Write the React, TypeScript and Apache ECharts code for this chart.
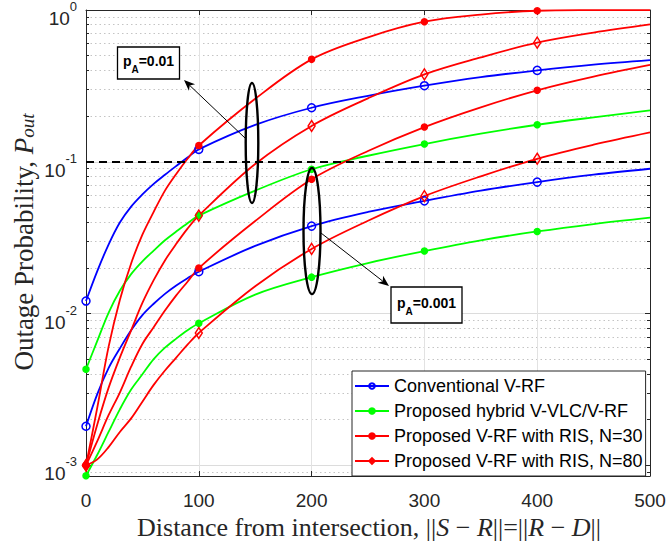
import React, { useEffect, useRef } from "react";
import * as echarts from "echarts";

// ---------------- data ----------------
const distance = [0, 10, 20, 30, 40, 50, 60, 70, 80, 90, 100, 150, 200, 250, 300, 350, 400, 450, 500];
const markerDistances = [0, 100, 200, 300, 400];

// Conventional V-RF
const conventionalPA001 = [0.0121, 0.01905, 0.0285, 0.0398, 0.0507, 0.061, 0.0716, 0.0822, 0.0938, 0.1067, 0.1208, 0.175, 0.227, 0.272, 0.317, 0.361, 0.4, 0.437, 0.468];
const conventionalPA0001 = [0.00181, 0.00295, 0.00437, 0.00589, 0.00776, 0.00977, 0.01161, 0.01349, 0.01531, 0.0171, 0.01888, 0.0279, 0.0377, 0.0467, 0.0553, 0.0646, 0.0735, 0.0822, 0.09];
// Proposed hybrid V-VLC/V-RF
const hybridPA001 = [0.0043, 0.00661, 0.01012, 0.01413, 0.0182, 0.0221, 0.026, 0.0304, 0.0347, 0.0394, 0.0442, 0.0646, 0.0893, 0.1096, 0.1309, 0.1531, 0.1754, 0.1963, 0.2178];
const hybridPA0001 = [0.000855, 0.001175, 0.00166, 0.00234, 0.00316, 0.00398, 0.00501, 0.00596, 0.00684, 0.00776, 0.00863, 0.01334, 0.01738, 0.02153, 0.02582, 0.03041, 0.03475, 0.0389, 0.04285];
// Proposed V-RF with RIS, N=30
const risN30PA001 = [0.001, 0.0024, 0.00603, 0.0123, 0.0214, 0.0331, 0.0468, 0.0646, 0.0832, 0.1047, 0.128, 0.26, 0.473, 0.661, 0.8375, 0.933, 0.9886, 0.9977, 0.9995];
const risN30PA0001 = [0.001, 0.001445, 0.00214, 0.00302, 0.00447, 0.00631, 0.00813, 0.01047, 0.01318, 0.01622, 0.01995, 0.0407, 0.0767, 0.1178, 0.1694, 0.2286, 0.2958, 0.3639, 0.4345];
// Proposed V-RF with RIS, N=80
const risN80PA001 = [0.001, 0.00186, 0.00324, 0.00513, 0.00776, 0.01175, 0.0166, 0.0224, 0.0288, 0.0363, 0.0442, 0.0966, 0.1722, 0.2618, 0.3767, 0.4875, 0.6095, 0.7096, 0.8035];
const risN80PA0001 = [0.001, 0.001096, 0.001318, 0.00166, 0.00204, 0.00263, 0.00339, 0.00422, 0.00513, 0.00624, 0.00745, 0.01514, 0.02667, 0.0409, 0.0594, 0.0802, 0.1047, 0.1297, 0.1563];

const legendNames = [
  "Conventional V-RF",
  "Proposed hybrid V-VLC/V-RF",
  "Proposed V-RF with RIS, N=30",
  "Proposed V-RF with RIS, N=80",
];

const xMin = 0;
const xMax = 500;
const xStep = 100;
const yExponents = [-3, -2, -1, 0];
const yMinLog = -3.07;
const yMaxLog = 0;
const outageThreshold = 0.1;
const annotationLabels = ["0.01", "0.001"];

// ---------------- styles ----------------
const AXIS = "#262626";
const SANS = "Liberation Sans, Arial, sans-serif";
const SERIF = "Liberation Serif, Times New Roman, serif";

const styleConv = { color: "#0000ff", symbol: "circle", size: 8, fill: "rgba(255,255,255,0)" };
const styleHyb = { color: "#00ff00", symbol: "circle", size: 6, fill: "#00ff00" };
const styleN30 = { color: "#ff0000", symbol: "circle", size: 6, fill: "#ff0000" };
const styleN80 = { color: "#ff0000", symbol: "diamond", size: [7, 11], fill: "rgba(255,255,255,0)" };

function buildData(values: number[]) {
  return distance.map((d, i) => {
    const v = [d, Math.log10(values[i])];
    return markerDistances.includes(d) ? { value: v } : { value: v, symbol: "none" };
  });
}

function makeSeries(name: string, values: number[], st: any, extra: any = {}) {
  return {
    type: "line",
    name,
    data: buildData(values),
    smooth: 0.35,
    showSymbol: true,
    symbol: st.symbol,
    symbolSize: st.size,
    lineStyle: { color: st.color, width: 1.8 },
    itemStyle: { color: st.fill, borderColor: st.color, borderWidth: 1.5 },
    emphasis: { disabled: true },
    clip: true,
    xAxisIndex: 0,
    yAxisIndex: 0,
    ...extra,
  };
}

function arrowHead(tail: number[], tip: number[], len = 11, half = 4.5, back = 0.72) {
  const dx = tip[0] - tail[0];
  const dy = tip[1] - tail[1];
  const L = Math.hypot(dx, dy);
  const ux = dx / L, uy = dy / L, nx = -uy, ny = ux;
  return {
    head: [
      [tip[0], tip[1]],
      [tip[0] - ux * len + nx * half, tip[1] - uy * len + ny * half],
      [tip[0] - ux * len * back, tip[1] - uy * len * back],
      [tip[0] - ux * len - nx * half, tip[1] - uy * len - ny * half],
    ],
    notch: [tip[0] - ux * len * back, tip[1] - uy * len * back],
  };
}

function annotationBox(x: number, y: number, w: number, h: number, label: string) {
  return [
    {
      type: "rect",
      z: 120,
      shape: { x, y, width: w, height: h },
      style: { fill: "#fff", stroke: "#000", lineWidth: 1.3 },
    },
    {
      type: "text",
      z: 121,
      x: x + w / 2,
      y: y + h / 2 + 1,
      style: {
        text: `{b|p}{s|A}{b|=${label}}`,
        align: "center",
        verticalAlign: "middle",
        rich: {
          b: { fontFamily: SANS, fontWeight: "bold", fontSize: 14, lineHeight: 20, verticalAlign: "top", fill: "#000" },
          s: { fontFamily: SANS, fontWeight: "bold", fontSize: 10, lineHeight: 10, verticalAlign: "bottom", fill: "#000" },
        },
      },
    },
  ];
}

function arrow(tail: number[], tip: number[]) {
  const a = arrowHead(tail, tip);
  return [
    { type: "line", z: 119, shape: { x1: tail[0], y1: tail[1], x2: a.notch[0], y2: a.notch[1] }, style: { stroke: "#000", lineWidth: 1 } },
    { type: "polygon", z: 119, shape: { points: a.head }, style: { fill: "#000" } },
  ];
}

export default function App() {
  const ref = useRef<HTMLDivElement>(null);

  useEffect(() => {
    if (!ref.current) return;
    const chart = echarts.init(ref.current, undefined, { renderer: "svg" });

    const minorLogs: number[] = [];
    for (let e = -4; e < 0; e++) {
      for (let k = 2; k <= 9; k++) {
        const v = Math.log10(k * Math.pow(10, e));
        if (v > yMinLog && v < yMaxLog) minorLogs.push(v);
      }
    }

    const yLabel = {
      show: true,
      customValues: yExponents,
      formatter: (v: number) => `{b|10}{s|${Math.round(v)}}`,
      margin: 9,
      padding: [8, 0, 0, 0],
      rich: {
        b: { fontFamily: SANS, fontSize: 19, color: AXIS, lineHeight: 28, verticalAlign: "bottom" },
        s: { fontFamily: SANS, fontSize: 13, color: AXIS, lineHeight: 8, verticalAlign: "top" },
      },
    };

    const option: any = {
      animation: false,
      backgroundColor: "#fff",
      grid: { left: 86, right: 16, top: 10, bottom: 73, containLabel: false, outerBoundsMode: "none" },
      xAxis: [
        {
          type: "value",
          position: "bottom",
          min: xMin,
          max: xMax,
          interval: xStep,
          axisLine: { show: true, onZero: false, lineStyle: { color: AXIS, width: 1 } },
          axisTick: { show: true, inside: true, length: 5, lineStyle: { color: AXIS } },
          axisLabel: { fontFamily: SANS, fontSize: 19, color: AXIS, margin: 15 },
          splitLine: { show: true, lineStyle: { color: "#e2e2e2", width: 1 } },
        },
        {
          type: "value",
          position: "top",
          min: xMin,
          max: xMax,
          interval: xStep,
          axisLine: { show: true, onZero: false, lineStyle: { color: AXIS, width: 1 } },
          axisTick: { show: true, inside: true, length: 5, lineStyle: { color: AXIS } },
          axisLabel: { show: false },
          splitLine: { show: false },
        },
      ],
      yAxis: [
        {
          type: "value",
          position: "left",
          min: yMinLog,
          max: yMaxLog,
          axisLine: { show: true, onZero: false, lineStyle: { color: AXIS, width: 1 } },
          axisTick: { show: true, inside: true, length: 5, customValues: yExponents, lineStyle: { color: AXIS } },
          axisLabel: yLabel,
          splitLine: { show: true, lineStyle: { color: "#dcdcdc", width: 1 } },
        },
        {
          type: "value",
          position: "left",
          min: yMinLog,
          max: yMaxLog,
          axisLine: { show: false, onZero: false },
          axisTick: { show: true, inside: true, length: 3, customValues: minorLogs, lineStyle: { color: AXIS } },
          axisLabel: { show: false },
          splitLine: { show: true, lineStyle: { color: "#c4c4c4", width: 1, type: [1.5, 3] } },
        },
        {
          type: "value",
          position: "right",
          min: yMinLog,
          max: yMaxLog,
          axisLine: { show: true, onZero: false, lineStyle: { color: AXIS, width: 1 } },
          axisTick: { show: true, inside: true, length: 5, customValues: yExponents, lineStyle: { color: AXIS } },
          axisLabel: { show: false },
          splitLine: { show: false },
        },
        {
          type: "value",
          position: "right",
          min: yMinLog,
          max: yMaxLog,
          axisLine: { show: false, onZero: false },
          axisTick: { show: true, inside: true, length: 3, customValues: minorLogs, lineStyle: { color: AXIS } },
          axisLabel: { show: false },
          splitLine: { show: false },
        },
      ],
      legend: {
        data: legendNames,
        orient: "vertical",
        left: 352,
        top: 371,
        itemWidth: 34,
        itemHeight: 7,
        itemGap: 7,
        padding: [6, 3, 6, 2],
        backgroundColor: "#fff",
        borderColor: AXIS,
        borderWidth: 1,
        borderRadius: 0,
        textStyle: { fontFamily: SANS, fontSize: 18, color: "#000", lineHeight: 18 },
        selectedMode: false,
      },
      series: [
        makeSeries(legendNames[0], conventionalPA001, styleConv, {
          markLine: {
            silent: true,
            symbol: "none",
            label: { show: false },
            lineStyle: { color: "#000", type: [8, 5], width: 1.8 },
            data: [{ yAxis: Math.log10(outageThreshold) }],
          },
        }),
        makeSeries(legendNames[0], conventionalPA0001, styleConv),
        makeSeries(legendNames[1], hybridPA001, styleHyb),
        makeSeries(legendNames[1], hybridPA0001, styleHyb),
        makeSeries(legendNames[2], risN30PA001, styleN30),
        makeSeries(legendNames[2], risN30PA0001, styleN30),
        makeSeries(legendNames[3], risN80PA001, styleN80),
        makeSeries(legendNames[3], risN80PA0001, styleN80),
      ],
      graphic: [
        // y axis title
        {
          type: "text",
          z: 100,
          x: 21,
          y: 242,
          rotation: Math.PI / 2,
          style: {
            text: "{n|Outage Probability, }{i|P}{u|out}",
            align: "center",
            verticalAlign: "middle",
            rich: {
              n: { fontFamily: SERIF, fontSize: 27, lineHeight: 32, verticalAlign: "bottom", fill: AXIS },
              i: { fontFamily: SERIF, fontStyle: "italic", fontSize: 27, lineHeight: 32, verticalAlign: "bottom", fill: AXIS },
              u: { fontFamily: SERIF, fontStyle: "italic", fontSize: 19, lineHeight: 19, verticalAlign: "bottom", fill: AXIS },
            },
          },
        },
        // x axis title
        {
          type: "text",
          z: 100,
          x: 369,
          y: 527,
          style: {
            text: "{n|Distance from intersection, ||}{i|S}{n| \u2212 }{i|R}{n|||=||}{i|R}{n| \u2212 }{i|D}{n|||}",
            align: "center",
            verticalAlign: "middle",
            rich: {
              n: { fontFamily: SERIF, fontSize: 26, fill: AXIS },
              i: { fontFamily: SERIF, fontStyle: "italic", fontSize: 26, fill: AXIS },
            },
          },
        },
        // ellipses
        { type: "ellipse", z: 118, shape: { cx: 252, cy: 143, rx: 6.3, ry: 60 }, style: { fill: "none", stroke: "#000", lineWidth: 2.4 } },
        { type: "ellipse", z: 118, shape: { cx: 312, cy: 231, rx: 8.5, ry: 63 }, style: { fill: "none", stroke: "#000", lineWidth: 2.4 } },
        // arrows
        ...arrow([245, 138], [184, 80]),
        ...arrow([321, 233], [389, 286]),
        // boxes
        ...annotationBox(117.5, 47, 62, 32, annotationLabels[0]),
        ...annotationBox(391, 287, 71, 36, annotationLabels[1]),
      ],
    };

    chart.setOption(option);
    return () => chart.dispose();
  }, []);

  return (
    <div
      ref={ref}
      style={{ position: "fixed", left: 0, top: 0, width: 666, height: 549, background: "#fff" }}
    />
  );
}
